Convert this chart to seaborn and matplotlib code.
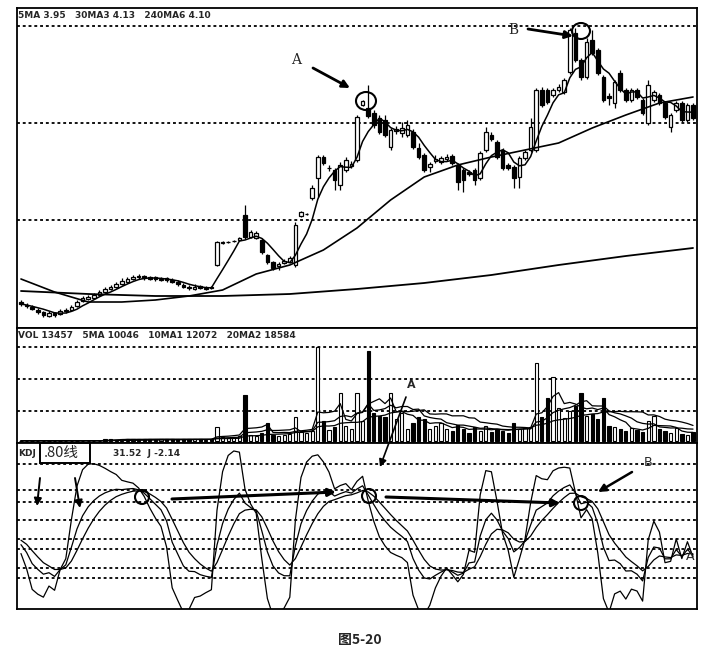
import matplotlib
matplotlib.use("Agg")
import matplotlib.pyplot as plt
from matplotlib.patches import Ellipse, Rectangle, FancyArrowPatch
import numpy as np
import pandas as pd
import seaborn as sns

W, H = 717, 662

# daily bars (price units)
opens = [2.18, 2.15, 2.13, 2.10, 2.08, 2.04, 2.07, 2.06, 2.10, 2.10,
         2.14, 2.19, 2.21, 2.22, 2.25, 2.28, 2.31, 2.33, 2.36, 2.38,
         2.41, 2.44, 2.44, 2.43, 2.43, 2.40, 2.42, 2.40, 2.38, 2.35,
         2.33, 2.31, 2.34, 2.31, 2.33,
         2.55, 2.77, 2.78, 2.79, 2.80,
         3.05, 2.83, 2.82, 2.80, 2.65, 2.58, 2.54, 2.57, 2.58, 2.55,
         3.04, 3.06, 3.22, 3.42, 3.63, 3.52, 3.50, 3.35, 3.50, 3.54,
         3.60, 4.15, 4.12, 4.07, 4.02, 4.00, 3.73, 3.89, 3.87, 3.85,
         3.88, 3.72, 3.65, 3.53, 3.59, 3.58, 3.61, 3.64, 3.55, 3.50,
         3.48, 3.50, 3.42, 3.70, 3.85, 3.78, 3.70, 3.55, 3.53, 3.43,
         3.62, 3.70, 3.70, 4.30, 4.30, 4.25, 4.30, 4.28, 4.48, 4.87,
         4.60, 4.43, 4.80, 4.70, 4.43, 4.24, 4.17, 4.47, 4.30, 4.20,
         4.30, 4.20, 3.97, 4.20, 4.25, 4.17, 3.93, 4.10, 4.17, 4.00, 4.15]
closes = [2.16, 2.14, 2.11, 2.08, 2.05, 2.07, 2.05, 2.09, 2.09, 2.13,
          2.18, 2.22, 2.23, 2.25, 2.28, 2.31, 2.33, 2.36, 2.39, 2.41,
          2.43, 2.43, 2.42, 2.41, 2.41, 2.41, 2.40, 2.38, 2.36, 2.33,
          2.32, 2.33, 2.32, 2.32, 2.32,
          2.78, 2.78, 2.78, 2.79, 2.82,
          2.83, 2.88, 2.87, 2.68, 2.58, 2.52, 2.56, 2.59, 2.62, 2.95,
          3.08, 3.06, 3.32, 3.63, 3.57, 3.52, 3.40, 3.55, 3.60, 3.56,
          4.03, 4.19, 4.04, 3.95, 3.88, 3.85, 3.90, 3.91, 3.92, 3.95,
          3.73, 3.63, 3.50, 3.56, 3.61, 3.62, 3.63, 3.57, 3.38, 3.40,
          3.46, 3.40, 3.67, 3.88, 3.81, 3.63, 3.52, 3.52, 3.42, 3.62,
          3.68, 3.93, 4.30, 4.15, 4.18, 4.30, 4.33, 4.40, 4.90, 4.60,
          4.43, 4.78, 4.67, 4.47, 4.20, 4.22, 4.38, 4.30, 4.20, 4.30,
          4.23, 4.07, 4.35, 4.28, 4.17, 4.03, 4.05, 4.17, 4.00, 4.15, 4.02]
highs = [2.20, 2.17, 2.15, 2.12, 2.09, 2.09, 2.08, 2.11, 2.12, 2.15,
         2.20, 2.24, 2.25, 2.27, 2.30, 2.33, 2.35, 2.38, 2.42, 2.43,
         2.45, 2.46, 2.45, 2.44, 2.44, 2.43, 2.43, 2.42, 2.40, 2.37,
         2.35, 2.36, 2.35, 2.34, 2.34,
         2.79, 2.79, 2.79, 2.80, 2.83,
         3.15, 2.90, 2.89, 2.82, 2.66, 2.59, 2.58, 2.61, 2.64, 2.98,
         3.09, 3.07, 3.35, 3.65, 3.65, 3.55, 3.52, 3.58, 3.63, 3.59,
         4.05, 4.20, 4.35, 4.10, 4.05, 4.05, 3.92, 3.94, 3.98, 4.00,
         3.91, 3.77, 3.67, 3.58, 3.65, 3.64, 3.66, 3.66, 3.57, 3.52,
         3.50, 3.52, 3.69, 3.93, 3.88, 3.80, 3.72, 3.57, 3.55, 3.64,
         3.70, 4.02, 4.32, 4.33, 4.32, 4.32, 4.36, 4.42, 4.92, 4.92,
         4.62, 4.82, 4.90, 4.72, 4.45, 4.27, 4.40, 4.50, 4.32, 4.32,
         4.32, 4.22, 4.40, 4.30, 4.27, 4.19, 4.07, 4.19, 4.19, 4.17, 4.17]
lows = [2.14, 2.12, 2.10, 2.06, 2.03, 2.03, 2.03, 2.05, 2.07, 2.09,
        2.13, 2.18, 2.20, 2.21, 2.24, 2.27, 2.30, 2.32, 2.35, 2.37,
        2.40, 2.41, 2.40, 2.40, 2.39, 2.39, 2.38, 2.37, 2.34, 2.32,
        2.30, 2.30, 2.31, 2.30, 2.31,
        2.54, 2.76, 2.77, 2.78, 2.79,
        2.81, 2.82, 2.81, 2.66, 2.56, 2.50, 2.50, 2.56, 2.57, 2.53,
        3.03, 3.05, 3.20, 3.23, 3.55, 3.49, 3.30, 3.30, 3.48, 3.52,
        3.58, 4.14, 4.02, 3.92, 3.86, 3.83, 3.70, 3.86, 3.83, 3.83,
        3.71, 3.61, 3.48, 3.48, 3.57, 3.56, 3.59, 3.55, 3.30, 3.28,
        3.44, 3.35, 3.40, 3.68, 3.79, 3.61, 3.50, 3.50, 3.32, 3.32,
        3.60, 3.68, 3.68, 4.13, 4.16, 4.23, 4.28, 4.26, 4.46, 4.58,
        4.40, 4.41, 4.65, 4.45, 4.18, 4.15, 4.12, 4.28, 4.18, 4.18,
        4.21, 4.05, 3.95, 4.18, 4.15, 4.01, 3.88, 4.08, 3.98, 3.98, 4.00]
volumes = [400, 300, 350, 300, 450, 300, 350, 400, 300, 350,
           400, 300, 350, 400, 450, 2400, 2600, 2200, 2800, 2500,
           2300, 2700, 2400, 2600, 2200, 2500, 2800, 2400, 2300, 2600,
           2500, 2700, 2400, 2200, 2600,
           21000, 6000, 4500, 6000, 7500,
           69000, 9000, 7500, 12000, 27000, 9000, 7500, 9000, 10500, 36000,
           13500, 12000, 15000, 141000, 30000, 16500, 21000, 72000, 22500, 18000,
           72000, 30000, 135000, 42000, 37500, 36000, 72000, 33000, 42000, 18000,
           27000, 36000, 33000, 18000, 22500, 27000, 18000, 15000, 24000, 18000,
           12000, 21000, 15000, 22500, 13500, 18000, 15000, 12000, 27000, 18000,
           19500, 21000, 117000, 36000, 64500, 96000, 49500, 34500, 45000, 52500,
           72000, 37500, 40500, 33000, 64500, 22500, 21000, 18000, 15000, 19500,
           16500, 13500, 30000, 37500, 18000, 15000, 12000, 19500, 10500, 9000, 13457]

# longer moving averages (30MA every 6 bars, 240MA every 12 bars)
ma30_every6 = [2.41, 2.28, 2.18, 2.18, 2.20, 2.24, 2.30, 2.46, 2.55, 2.70, 2.92,
               3.20, 3.43, 3.55, 3.63, 3.70, 3.77, 3.92, 4.05, 4.17, 4.23]
ma240_every12 = [2.29, 2.26, 2.24, 2.24, 2.26, 2.31, 2.37, 2.45, 2.55, 2.64, 2.72]

price_grid = [4.94, 3.97, 3.00]
vol_grid = [141000, 93000, 45000]
kdj_grid = [112, 90, 80, 65, 49, 41, 25, 17]

main_header = "5MA 3.95   30MA3 4.13   240MA6 4.10"
vol_header = "VOL 13457   5MA 10046   10MA1 12072   20MA2 18584"
kdj_header = "31.52  J -2.14"

for name, arr in [("opens", opens), ("highs", highs), ("lows", lows), ("volumes", volumes)]:
    assert len(arr) == len(closes), (name, len(arr), len(closes))

o = np.array(opens)
c = np.array(closes)
hi = np.array(highs)
lo = np.array(lows)
vol = np.array(volumes, dtype=float)
bar = np.arange(len(c))
up = c >= o

# indicators
close_s = pd.Series(c)
ma5 = close_s.rolling(5, min_periods=1).mean()
vol_s = pd.Series(vol)
vol_mas = [vol_s.rolling(n, min_periods=1).mean() for n in (5, 10, 20)]

low9 = pd.Series(lo).rolling(9, min_periods=1).min()
high9 = pd.Series(hi).rolling(9, min_periods=1).max()
rsv = ((close_s - low9) / (high9 - low9) * 100).to_numpy()
k_line, d_line = [], []
k_prev, d_prev = 50.0, 50.0
for r in rsv:
    k_prev = 2 / 3 * k_prev + r / 3
    d_prev = 2 / 3 * d_prev + k_prev / 3
    k_line.append(k_prev)
    d_line.append(d_prev)
k_line = np.array(k_line)
d_line = np.array(d_line)
j_line = 3 * k_line - 2 * d_line

sns.set_theme(style="white")
plt.rcParams["font.family"] = ["DejaVu Sans", "Noto Sans CJK SC"]

fig = plt.figure(figsize=(W / 100, H / 100), dpi=100)
fig.patch.set_facecolor("white")


def panel(top, bottom):
    ax = fig.add_axes([17 / W, 1 - bottom / H, 680 / W, (bottom - top) / H])
    ax.set_facecolor("white")
    ax.set_xlim(-0.71, 120.71)
    ax.set_xticks([])
    ax.set_yticks([])
    for sp in ax.spines.values():
        sp.set_color("black")
        sp.set_linewidth(1.3)
    return ax


ax_p = panel(8, 328)
ax_v = panel(328, 443)
ax_k = panel(443, 609)

dots = (0, (1.6, 1.6))

# price panel
ax_p.set_ylim(1.92, 5.12)
for lvl in price_grid:
    ax_p.axhline(lvl, color="black", lw=1.3, ls=dots, zorder=0)
ax_p.vlines(bar, lo, hi, color="black", lw=0.9, zorder=2)
body_low = np.minimum(o, c)
body_h = np.maximum(np.abs(c - o), 0.004)
ax_p.bar(bar[up], body_h[up], bottom=body_low[up], width=0.62,
         facecolor="white", edgecolor="black", lw=0.9, zorder=3)
ax_p.bar(bar[~up], body_h[~up], bottom=body_low[~up], width=0.62,
         facecolor="black", edgecolor="black", lw=0.9, zorder=3)
sns.lineplot(x=bar, y=ma5.to_numpy(), ax=ax_p, color="black", lw=1.1, zorder=4)
sns.lineplot(x=np.arange(0, len(c), 6), y=ma30_every6, ax=ax_p, color="black", lw=1.2, zorder=4)
sns.lineplot(x=np.arange(0, len(c), 12), y=ma240_every12, ax=ax_p, color="black", lw=1.3, zorder=4)

# volume panel
ax_v.set_ylim(-3000, 169500)
for lvl in vol_grid:
    ax_v.axhline(lvl, color="black", lw=1.3, ls=dots, zorder=0)
ax_v.bar(bar[up], vol[up], width=0.6, facecolor="white", edgecolor="black", lw=0.8, zorder=2)
ax_v.bar(bar[~up], vol[~up], width=0.6, facecolor="black", edgecolor="black", lw=0.8, zorder=2)
for vm in vol_mas:
    sns.lineplot(x=bar, y=vm.to_numpy(), ax=ax_v, color="black", lw=0.9, zorder=3)

# KDJ panel
ax_k.set_ylim(-9.2, 129.2)
for lvl in kdj_grid:
    ax_k.axhline(lvl, color="black", lw=1.3, ls=dots, zorder=0)
for line in (k_line, d_line, j_line):
    sns.lineplot(x=bar, y=line, ax=ax_k, color="black", lw=0.9, zorder=3)

for ax in (ax_p, ax_v, ax_k):
    ax.set_xlabel("")
    ax.set_ylabel("")
    if ax.get_legend():
        ax.get_legend().remove()


def inch(x, y):
    return (x / 100, (H - y) / 100)


def arrow(x0, y0, x1, y1, lw=1.8):
    fig.add_artist(FancyArrowPatch(inch(x0, y0), inch(x1, y1), transform=fig.dpi_scale_trans,
                                   arrowstyle="-|>", color="black", lw=lw,
                                   mutation_scale=11, shrinkA=0, shrinkB=0, zorder=12))


def ring(x, y, w, h):
    fig.add_artist(Ellipse(inch(x, y), w / 100, h / 100, transform=fig.dpi_scale_trans,
                           fill=False, edgecolor="black", lw=1.5, zorder=10))


def label(x, y, s, **kw):
    fig.text(x / W, 1 - y / H, s, va="center", zorder=12, **kw)


# headers
label(18, 16, main_header, fontsize=6.5, fontweight="bold", ha="left")
label(18, 336, vol_header, fontsize=6.5, fontweight="bold", ha="left")
label(18, 453, "KDJ", fontsize=6.5, fontweight="bold", ha="left")
label(113, 453, kdj_header, fontsize=6.5, fontweight="bold", ha="left")
fig.add_artist(Rectangle(inch(40, 463), 50 / 100, 20 / 100, transform=fig.dpi_scale_trans,
                         facecolor="white", edgecolor="black", lw=1.4, zorder=9))
label(44, 453, ".80线", fontsize=10.5, ha="left", family=["Noto Sans CJK SC", "DejaVu Sans"])

# hand-drawn annotations
label(296, 60, "A", fontsize=10, ha="center", family="DejaVu Serif")
label(513, 30, "B", fontsize=10, ha="center", family="DejaVu Serif")
arrow(313, 68, 350, 88, lw=2.0)
arrow(528, 29, 573, 36, lw=2.0)
ring(366, 101, 20, 18)
ring(581, 31, 18, 16)

label(411, 385, "A", fontsize=8, fontweight="bold", ha="center")
arrow(406, 397, 380, 467, lw=1.2)

arrow(40, 478, 37, 506, lw=1.4)
arrow(75, 478, 80, 508, lw=1.4)
arrow(172, 499, 336, 492, lw=2.2)
arrow(386, 497, 560, 503, lw=2.2)
arrow(632, 472, 598, 492, lw=1.8)
label(648, 462, "B", fontsize=9, ha="center")
label(690, 557, "A", fontsize=9, ha="center")
ring(142, 497, 14, 14)
ring(369, 496, 14, 14)
ring(581, 503, 14, 14)

label(360, 640, "图5-20", fontsize=10, fontweight="bold", ha="center",
      family=["Noto Sans CJK SC", "DejaVu Sans"])

fig.savefig("out.png", dpi=100, facecolor="white")
